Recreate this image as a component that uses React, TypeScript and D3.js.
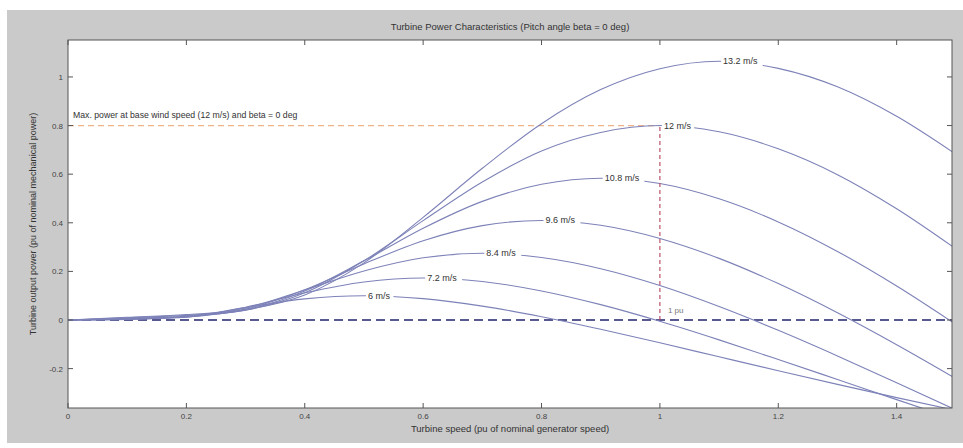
import React from 'react';
import * as d3 from 'd3';

// Turbine speed (pu of nominal generator speed)
const speeds = [0, 0.1, 0.2, 0.3, 0.4, 0.5, 0.6, 0.7, 0.8, 0.9, 1.0, 1.1, 1.2, 1.3, 1.4, 1.5];

// Turbine output power (pu) for each wind speed
const power6 = [0, 0.0024, 0.0142, 0.0511, 0.087, 0.1, 0.088, 0.0572, 0.0135, -0.0382, -0.0939, -0.1513, -0.2085, -0.2649, -0.3193, -0.3719];
const power72 = [0, 0.0033, 0.0124, 0.0526, 0.1119, 0.1567, 0.1728, 0.1584, 0.1196, 0.0632, -0.0053, -0.0817, -0.1623, -0.2448, -0.3276, -0.4093];
const power84 = [0, 0.0045, 0.012, 0.0492, 0.1238, 0.2018, 0.2559, 0.2744, 0.2569, 0.2109, 0.1418, 0.0555, -0.0422, -0.1476, -0.2578, -0.37];
const power96 = [0, 0.0059, 0.0132, 0.0447, 0.1247, 0.2307, 0.3261, 0.3882, 0.4096, 0.3896, 0.3355, 0.2536, 0.1498, 0.0299, -0.1015, -0.2408];
const power108 = [0, 0.0074, 0.0156, 0.0413, 0.1198, 0.2434, 0.3775, 0.4881, 0.5582, 0.5832, 0.5613, 0.4986, 0.4036, 0.2821, 0.14, -0.0179];
const power12 = [0, 0.0092, 0.019, 0.0405, 0.1117, 0.2435, 0.409, 0.5678, 0.6957, 0.7718, 0.8, 0.7743, 0.7043, 0.598, 0.4577, 0.2927];
const power132 = [0, 0.0111, 0.0224, 0.0426, 0.1032, 0.2351, 0.4224, 0.6242, 0.8077, 0.9479, 1.0339, 1.0648, 1.0353, 0.9594, 0.8381, 0.6821];

const windLabels = ['6 m/s', '7.2 m/s', '8.4 m/s', '9.6 m/s', '10.8 m/s', '12 m/s', '13.2 m/s'];
const peakSpeed = [0.5, 0.6, 0.7, 0.8, 0.9, 1.0, 1.1];
const peakPower = [0.1, 0.1728, 0.2744, 0.4096, 0.5832, 0.8, 1.0648];

const xTicks = [0, 0.2, 0.4, 0.6, 0.8, 1, 1.2, 1.4];
const yTicks = [-0.2, 0, 0.2, 0.4, 0.6, 0.8, 1];

const basePower = 0.8;
const baseSpeed = 1;

const titleText = 'Turbine Power Characteristics (Pitch angle beta = 0 deg)';
const xLabelText = 'Turbine speed (pu of nominal generator speed)';
const yLabelText = 'Turbine output power (pu of nominal mechanical power)';
const maxText = 'Max. power at base wind speed (12 m/s) and beta = 0 deg';
const puText = '1 pu';

const W = 963;
const H = 448;
const L = 68, R = 952, T = 40, B = 408;

const FONT = '"Liberation Sans", Arial, Helvetica, sans-serif';

export default function App() {
  const x = d3.scaleLinear().domain([0, 1.4935]).range([L, R]);
  const y = d3.scaleLinear().domain([-0.362, 1.152]).range([B, T]);
  const series = [power6, power72, power84, power96, power108, power12, power132];
  const line = d3
    .line<number>()
    .x((_, i) => x(speeds[i]))
    .y((d) => y(d))
    .curve(d3.curveMonotoneX);

  const fmt = (v: number) => (Math.abs(v) < 1e-9 ? '0' : String(+v.toFixed(2)));

  return (
    <svg width={W} height={H} style={{ position: 'absolute', left: 0, top: 0, background: '#fff' }} fontFamily={FONT}>
      <defs>
        <clipPath id="plotclip">
          <rect x={L} y={T} width={R - L} height={B - T} />
        </clipPath>
      </defs>
      <rect x={7} y={10} width={W - 7} height={433} fill="#cacaca" />
      <rect x={L} y={T} width={R - L} height={B - T} fill="#ffffff" />

      <g clipPath="url(#plotclip)">
        {/* zero line */}
        <line x1={x(0)} x2={x(1.5)} y1={y(0)} y2={y(0)} stroke="#23236e" strokeWidth={1.3} strokeDasharray="9,5" />
        {/* max power line */}
        <line x1={x(0)} x2={x(baseSpeed)} y1={y(basePower)} y2={y(basePower)} stroke="#eeb48a" strokeWidth={1.2} strokeDasharray="6,4" />
        {series.map((s, i) => (
          <path key={i} d={line(s) || ''} fill="none" stroke="#7d82b8" strokeWidth={1.1} />
        ))}
        {/* base speed line */}
        <line x1={x(baseSpeed)} x2={x(baseSpeed)} y1={y(0)} y2={y(basePower)} stroke="#b8445a" strokeWidth={1.1} strokeDasharray="4,3" />
        {windLabels.map((lab, i) => {
          const px = x(peakSpeed[i]) + 4;
          const py = y(peakPower[i]);
          const w = lab.length * 4.7 + 4;
          return (
            <g key={lab}>
              <rect x={px - 2} y={py - 5} width={w} height={10} fill="#fff" />
              <text x={px} y={py + 3} fontSize={9} fill="#333">{lab}</text>
            </g>
          );
        })}
        <text x={x(baseSpeed) + 8} y={y(0) - 7} fontSize={8} fill="#777">{puText}</text>
        <text x={73} y={118} fontSize={8.7} fill="#333">{maxText}</text>
      </g>

      {/* box */}
      <rect x={L} y={T} width={R - L} height={B - T} fill="none" stroke="#555" strokeWidth={1} />
      {xTicks.map((t) => (
        <g key={'x' + t}>
          <line x1={x(t)} x2={x(t)} y1={B} y2={B - 5} stroke="#555" />
          <line x1={x(t)} x2={x(t)} y1={T} y2={T + 5} stroke="#555" />
          <text x={x(t)} y={B + 11} fontSize={8} textAnchor="middle" fill="#444">{fmt(t)}</text>
        </g>
      ))}
      {yTicks.map((t) => (
        <g key={'y' + t}>
          <line x1={L} x2={L + 5} y1={y(t)} y2={y(t)} stroke="#555" />
          <line x1={R} x2={R - 5} y1={y(t)} y2={y(t)} stroke="#555" />
          <text x={L - 5} y={y(t) + 3} fontSize={8} textAnchor="end" fill="#444">{fmt(t)}</text>
        </g>
      ))}

      <text x={(L + R) / 2} y={30} fontSize={9.5} textAnchor="middle" fill="#333">{titleText}</text>
      <text x={(L + R) / 2} y={432} fontSize={9.5} textAnchor="middle" fill="#333">{xLabelText}</text>
      <text transform={`translate(36, ${(T + B) / 2}) rotate(-90)`} fontSize={9} textAnchor="middle" fill="#333">{yLabelText}</text>
    </svg>
  );
}
